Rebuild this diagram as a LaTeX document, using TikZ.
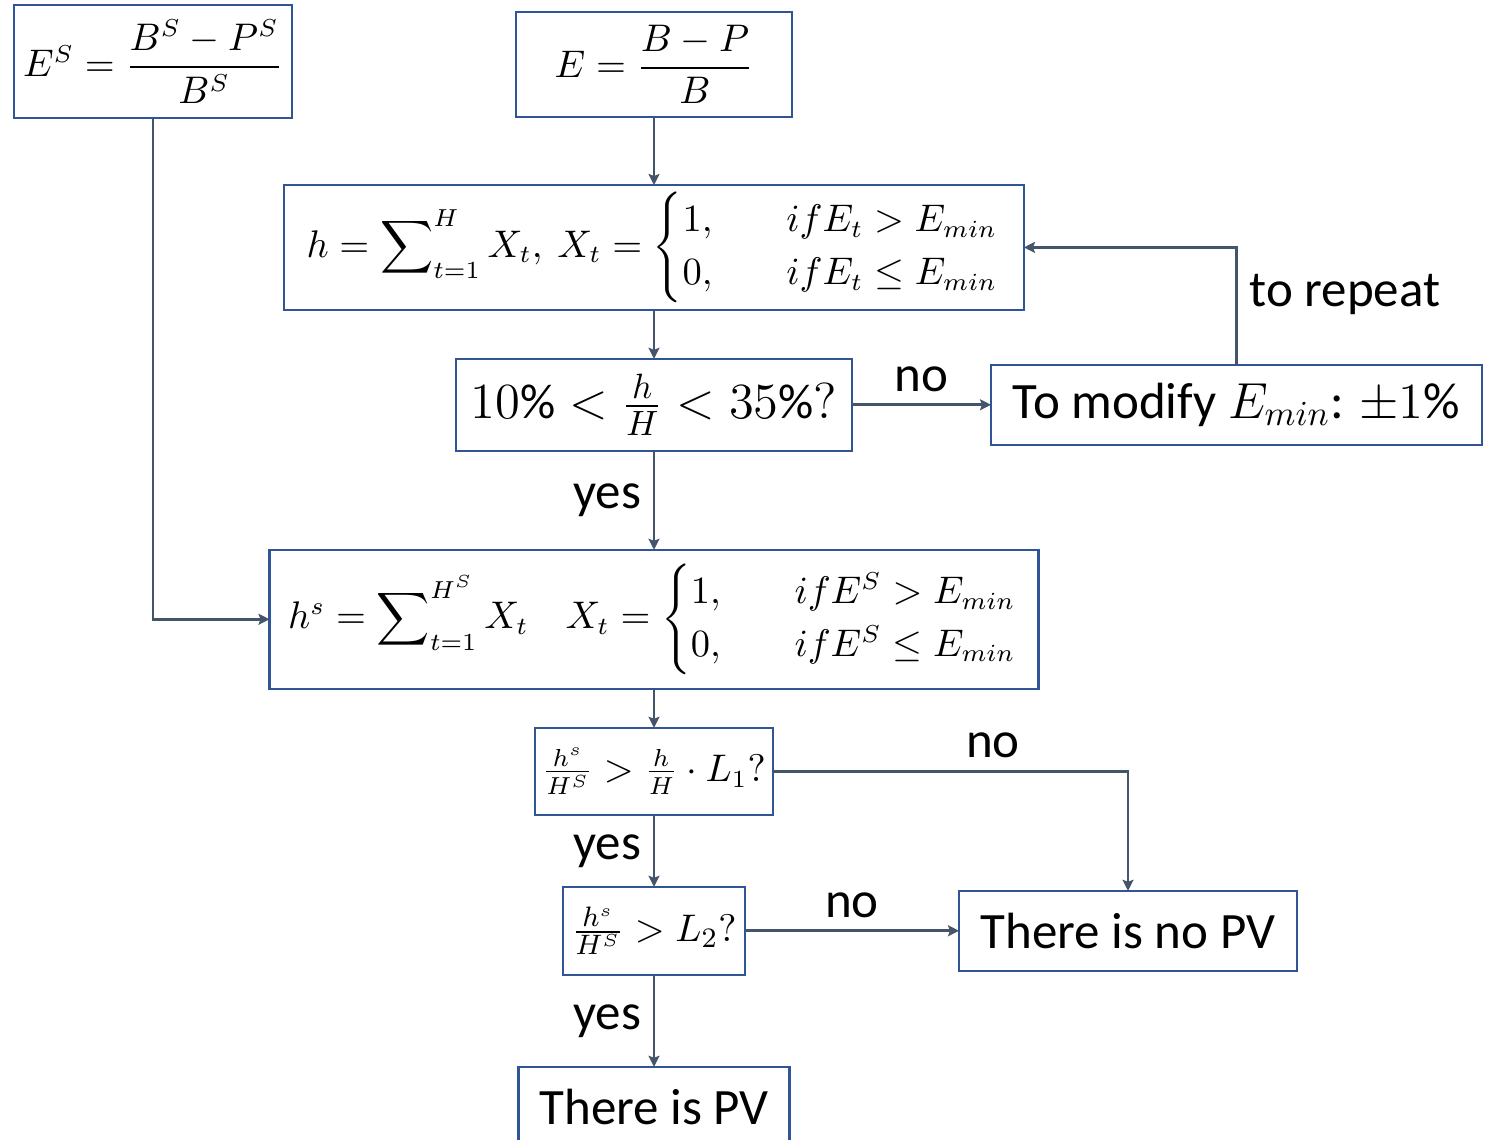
\documentclass[tikz,border=0pt]{standalone}
\usepackage{amsmath,amssymb}
\usepackage{fontspec}
\setmainfont{Carlito}
\usetikzlibrary{arrows.meta,positioning}
\definecolor{boxblue}{RGB}{47,85,151}
\definecolor{linegray}{RGB}{68,84,106}

\begin{document}
\begin{tikzpicture}[
  node distance=0.5cm,
  every node/.style={font=\fontsize{14.5}{17}\selectfont,align=center},
  block/.style={draw=boxblue,line width=0.6pt,fill=white,inner sep=2pt,outer sep=0pt},
  formula/.style={block,font=\fontsize{10.5}{12.5}\selectfont},
  arrow/.style={-{Stealth[length=1.1mm,width=1.1mm,inset=0.2mm]},line width=0.75pt,draw=linegray}
]
\useasboundingbox (0,0) rectangle (14.91,-11.40);
\node[formula,minimum width=2.78cm,minimum height=1.13cm] (es) at (1.53,-0.615) {$E^S=\dfrac{B^S-P^S}{B^S}$};
\node[formula,minimum width=2.76cm,minimum height=1.05cm] (e) at (6.54,-0.645) {$E=\dfrac{B-P}{B}$};
\node[formula,minimum width=7.40cm,minimum height=1.23cm,below=0.68cm of e] (hsum)
  {$h=\displaystyle\sum\nolimits_{t=1}^{H}X_t,\ X_t=\begin{cases}1, & \quad ifE_t>E_{min}\\ 0, & \quad ifE_t\le E_{min}\end{cases}$};
\node[block,font=\fontsize{14}{16}\selectfont,minimum width=3.96cm,minimum height=0.92cm,below=0.49cm of hsum] (check) {$10\%<\frac{h}{H}<35\%?$};
\node[block,minimum width=4.91cm,minimum height=0.80cm,right=1.39cm of check] (modify) {To modify $E_{min}$: $\pm1\%$};
\node[formula,minimum width=7.69cm,minimum height=1.39cm,below=0.99cm of check] (hssum)
  {$h^s=\displaystyle\sum\nolimits_{t=1}^{H^S}X_t\quad X_t=\begin{cases}1, & \quad ifE^S>E_{min}\\ 0, & \quad ifE^S\le E_{min}\end{cases}$};
\node[formula,minimum width=2.32cm,minimum height=0.87cm,below=0.39cm of hssum] (ratio) {$\frac{h^s}{H^S}>\frac{h}{H}\cdot L_1?$};
\node[formula,font=\fontsize{11}{13}\selectfont,minimum width=1.82cm,minimum height=0.88cm,below=0.72cm of ratio] (limit) {$\frac{h^s}{H^S}>L_2?$};
\node[block,minimum width=3.38cm,minimum height=0.80cm,right=2.14cm of limit] (nopv) {There is no PV};
\node[block,minimum width=2.71cm,minimum height=0.80cm,below=0.92cm of limit] (pv) {There is PV};
\draw[arrow] (e)--(hsum);
\draw[arrow] (hsum)--(check);
\draw[arrow] (check)-- node[above]{no} (modify);
\draw[arrow] (modify.north) |- node[pos=0.3,right]{to repeat} (hsum.east);
\draw[arrow] (check)-- node[left]{yes} (hssum);
\draw[arrow] (es.south) |- (hssum.west);
\draw[arrow] (hssum)--(ratio);
\draw[arrow] (ratio.east) -| node[pos=0.31,above]{no} (nopv.north);
\draw[arrow] (ratio)-- node[left]{yes} (limit);
\draw[arrow] (limit)-- node[above]{no} (nopv);
\draw[arrow] (limit)-- node[left]{yes} (pv);
\end{tikzpicture}
\end{document}
